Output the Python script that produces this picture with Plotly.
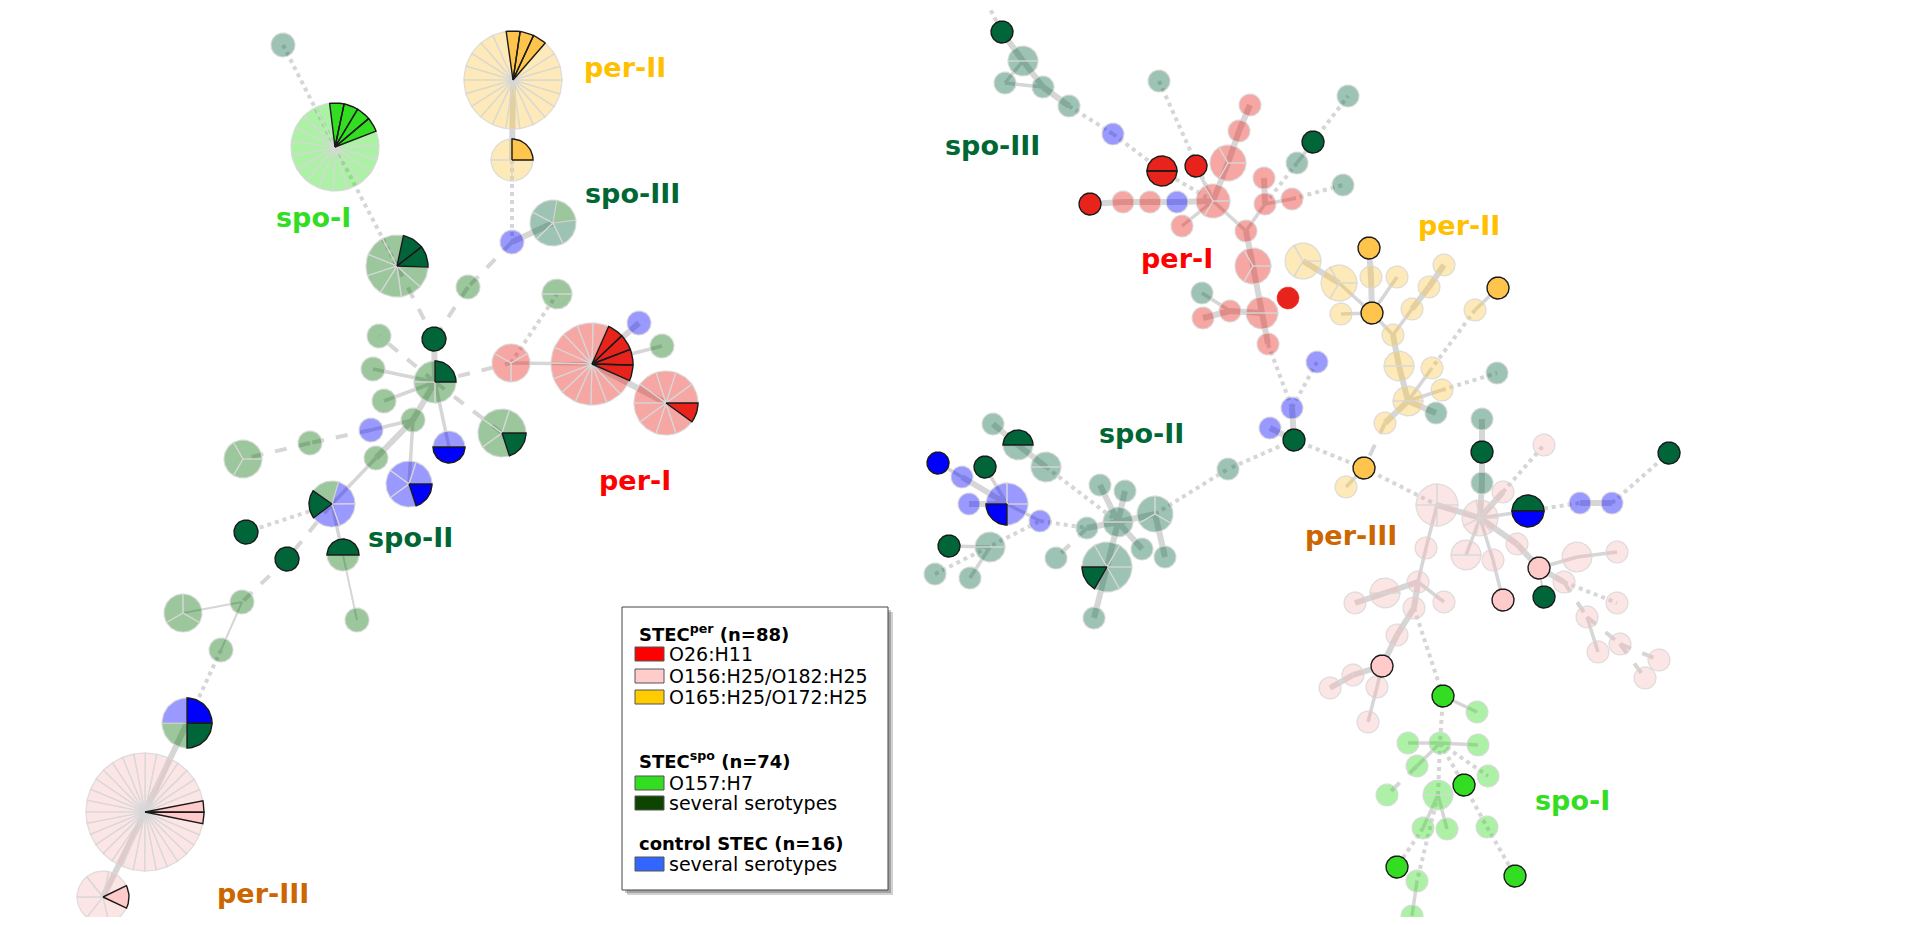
import math
import plotly.graph_objects as go

# ---------------- nodes (pixel layout of the minimum spanning trees) ----------------
# composition string: one letter per isolate slice
#  upper case = highlighted serotype, lower case = other isolates of the group
NODE_NAME = [
    "a1", "a2", "a3", "a4", "a5", "a6", "a7", "a8", "a9", "a10",
    "a11", "a12", "a13", "a14", "a15", "a16", "a17", "a18", "a19", "a20",
    "a21", "a22", "a23", "a24", "a25", "a26", "a27", "a28", "a29", "a30",
    "a31", "a32", "a33", "a34", "a35", "a36", "a37", "a38",
    "b0", "b1", "b2", "b3", "b4", "b5", "b6", "b7", "b8", "b9",
    "b10", "b11", "b12", "b13", "b14", "b15", "b16", "b17", "b18", "b19",
    "b20", "b21", "b22", "b23", "b24", "b25", "b26", "b27", "b28", "b29",
    "b30", "b31", "b32", "b33", "b34",
    "y1", "y2", "y3", "y4", "y5", "y6", "y7", "y8", "y9", "y10",
    "y11", "y12", "y13", "y14", "y15", "y16", "y17", "y18", "y19", "y20",
    "y21", "y22",
    "c1", "c2", "c3",
    "s1", "s2", "s3", "s4", "s5", "s6", "s7", "s8", "s9", "s10",
    "s11", "s12", "s13", "s14", "s15", "s16", "s17", "s18", "s19", "s20",
    "s21", "s22", "s23", "s24",
    "h1", "h2", "h3", "h4", "t1", "h5", "h6", "h7", "h8", "h9", "h10",
    "h11", "h12", "h13", "h14", "h15", "h16", "h17", "h18", "h19", "h20",
    "h21", "h22", "h23", "h24", "h25", "h26", "h27", "h28", "h29", "h30",
    "h31", "h32", "h33", "h34", "h35", "h36", "h37",
    "g1", "g1b", "g2", "g3", "g4", "g5", "g6", "g7", "g8", "g9",
    "g10", "g11", "g12", "g13", "g14", "g15", "g16",
]
NODE_X = [
    283, 335, 513, 512, 512, 553, 397, 468, 557, 434,
    379, 435, 511, 592, 639, 662, 666, 373, 384, 413,
    371, 502, 449, 409, 376, 310, 243, 332, 246, 287,
    343, 357, 242, 183, 221, 187, 145, 103,
    976, 1002, 1023, 1005, 1043, 1069, 1113, 1162, 1196, 1090,
    1123, 1150, 1177, 1213, 1182, 1159, 1250, 1239, 1228, 1264,
    1265, 1292, 1297, 1313, 1348, 1343, 1246, 1253, 1288, 1262,
    1230, 1203, 1202, 1268, 1317,
    1303, 1339, 1369, 1371, 1397, 1372, 1341, 1444, 1429, 1412,
    1498, 1475, 1393, 1399, 1432, 1408, 1442, 1497, 1436, 1385,
    1364, 1346,
    1294, 1292, 1270,
    993, 1018, 1046, 938, 962, 985, 1007, 969, 1040, 949,
    990, 935, 970, 1087, 1118, 1100, 1125, 1155, 1107, 1142,
    1165, 1056, 1094, 1228,
    1437, 1480, 1482, 1482, 1482, 1503, 1544, 1528, 1580, 1612, 1669,
    1426, 1466, 1493, 1517, 1539, 1577, 1617, 1503, 1544, 1564,
    1617, 1587, 1598, 1620, 1659, 1645, 1418, 1385, 1355, 1444,
    1414, 1397, 1382, 1353, 1330, 1377, 1368,
    1443, 1477, 1440, 1408, 1478, 1417, 1387, 1438, 1464, 1488,
    1423, 1447, 1487, 1397, 1417, 1515, 1412,
]
NODE_Y = [
    45, 147, 80, 160, 242, 223, 266, 287, 294, 339,
    336, 382, 363, 364, 323, 346, 403, 369, 401, 420,
    430, 433, 447, 484, 458, 443, 459, 504, 532, 559,
    555, 620, 602, 613, 650, 723, 812, 897,
    -18, 32, 61, 83, 87, 106, 134, 171, 166, 204,
    202, 202, 202, 201, 226, 81, 105, 131, 163, 178,
    204, 199, 163, 142, 96, 185, 231, 266, 298, 313,
    311, 318, 293, 344, 362,
    261, 283, 248, 277, 277, 313, 314, 265, 287, 309,
    288, 310, 335, 366, 368, 401, 390, 373, 413, 423,
    468, 487,
    440, 408, 428,
    424, 445, 467, 463, 477, 467, 504, 504, 521, 546,
    547, 574, 578, 528, 522, 485, 491, 514, 567, 549,
    557, 558, 618, 469,
    505, 518, 483, 452, 419, 492, 445, 511, 503, 503, 453,
    548, 555, 560, 544, 568, 557, 552, 600, 597, 582,
    603, 617, 652, 644, 660, 678, 582, 593, 603, 602,
    608, 635, 666, 675, 688, 687, 722,
    696, 712, 743, 743, 745, 766, 795, 795, 785, 776,
    828, 829, 827, 867, 881, 876, 916,
]
NODE_R = [
    12, 44, 49, 21, 12, 23, 31, 12, 15, 12,
    12, 21, 19, 41, 12, 12, 32, 12, 12, 12,
    12, 24, 16, 23, 12, 12, 19, 23, 12, 12,
    16, 12, 12, 19, 12, 25, 59, 26,
    11, 11, 15, 11, 11, 11, 11, 15, 11, 11,
    11, 11, 11, 17, 11, 11, 11, 11, 18, 11,
    11, 11, 11, 11, 11, 11, 11, 18, 11, 16,
    11, 11, 11, 11, 11,
    18, 18, 11, 11, 11, 11, 11, 11, 11, 11,
    11, 11, 11, 15, 11, 15, 11, 11, 11, 11,
    11, 11,
    11, 11, 11,
    11, 15, 15, 11, 11, 11, 21, 11, 11, 11,
    15, 11, 11, 11, 15, 11, 11, 18, 25, 11,
    11, 11, 11, 11,
    21, 18, 11, 11, 11, 11, 11, 16, 11, 11, 11,
    11, 15, 11, 11, 11, 15, 11, 11, 11, 11,
    11, 11, 11, 11, 11, 11, 11, 15, 11, 11,
    11, 11, 11, 11, 11, 11, 11,
    11, 11, 11, 11, 11, 11, 11, 15, 11, 11,
    11, 11, 11, 11, 11, 11, 11,
]
NODE_COMP = [
    "d", "GGGG" + "g" * 15, "YYY" + "y" * 19, "Yyyy", "b", "edddd", "DD" + "e" * 7, "e", "ee", "D",
    "e", "Deee", "rrr", "RRRR" + "r" * 12, "b", "e", "R" + "r" * 9, "e", "e", "e",
    "b", "Deeee", "Bb", "Bbbbb", "e", "e", "eee", "Debbb", "D", "D",
    "De", "e", "e", "eee", "e", "BDeb", "PP" + "p" * 30, "P" + "p" * 6,
    "d", "D", "dd", "d", "d", "d", "b", "RR", "R", "R",
    "r", "r", "b", "rrr", "r", "d", "r", "r", "rrr", "r",
    "r", "r", "d", "D", "d", "d", "r", "rrr", "Q", "rr",
    "r", "r", "d", "r", "b",
    "yyy", "yyy", "Y", "y", "y", "Y", "y", "y", "y", "y",
    "Y", "y", "y", "yy", "y", "yy", "y", "d", "d", "y",
    "Y", "y",
    "D", "b", "b",
    "d", "Dd", "dd", "B", "b", "D", "Bbbb", "b", "b", "D",
    "dd", "d", "d", "d", "dd", "d", "d", "ddd", "Dddddd", "d",
    "d", "d", "d", "d",
    "pppp", "ppppppp", "d", "D", "d", "p", "p", "DB", "b", "b", "D",
    "p", "pp", "p", "p", "P", "p", "p", "P", "D", "p",
    "p", "p", "p", "p", "p", "p", "p", "pp", "p", "p",
    "p", "p", "P", "p", "p", "p", "p",
    "G", "g", "g", "g", "g", "g", "g", "gg", "G", "g",
    "g", "g", "g", "G", "g", "G", "g",
]
NODE_START = {  # start angle (deg, clockwise from east) of the first slice
    "a2": -97, "a3": -98, "a4": -90, "a6": -80, "a7": -78, "a12": -90, "a13": 90,
    "a14": -66, "a28": 143, "a31": 180, "a34": -90, "a36": -90, "a37": -11, "a38": -26,
    "b13": 0, "b18": 0, "s2": 180, "s7": 90, "s18": -90, "s19": 120, "h7": 180,
}

# ---------------- edges ----------------
EDGES = [
    ("a1", "a2", "dot"), ("a2", "a7", "dot"), ("a3", "a4", "thick"), ("a4", "a5", "dot"),
    ("a5", "a6", "thick"), ("a5", "a8", "dash"), ("a8", "a10", "dash"), ("a7", "a10", "dash"),
    ("a10", "a12", "thick"), ("a12", "a11", "dash"), ("a12", "a18", "solid"), ("a12", "a19", "solid"),
    ("a12", "a20", "thick"), ("a12", "a13", "dash"), ("a12", "a23", "solid"), ("a12", "a22", "dash"),
    ("a13", "a9", "dot"), ("a13", "a14", "solid"), ("a14", "a15", "thick"), ("a14", "a16", "solid"),
    ("a14", "a17", "thick"), ("a20", "a24", "solid"), ("a20", "a21", "solid"), ("a20", "a25", "thick"),
    ("a21", "a26", "dash"), ("a26", "a27", "dash"), ("a25", "a28", "solid"), ("a28", "a29", "dot"),
    ("a28", "a30", "dash"), ("a28", "a31", "solid"), ("a31", "a32", "thin"), ("a30", "a33", "dash"),
    ("a33", "a34", "thin"), ("a33", "a35", "thin"), ("a35", "a36", "dot"), ("a36", "a37", "thick"),
    ("a37", "a38", "thick"),
    ("b0", "b1", "dot"), ("b1", "b2", "thick"), ("b2", "b3", "solid"), ("b3", "b4", "solid"),
    ("b2", "b4", "thick"), ("b4", "b5", "thick"), ("b5", "b6", "dot"), ("b6", "b7", "dot"),
    ("b7", "b13", "dot"), ("b9", "b10", "thick"), ("b10", "b11", "thick"), ("b11", "b12", "thick"),
    ("b12", "b13", "thick"), ("b14", "b13", "solid"), ("b8", "b13", "solid"), ("b15", "b13", "dot"),
    ("b16", "b17", "thick"), ("b17", "b18", "thick"), ("b18", "b13", "thick"), ("b13", "b26", "solid"),
    ("b26", "b20", "solid"), ("b20", "b19", "thick"), ("b20", "b21", "solid"), ("b21", "b25", "dot"),
    ("b20", "b22", "dot"), ("b22", "b23", "solid"), ("b23", "b24", "dot"), ("b26", "b27", "thick"),
    ("b27", "b29", "thick"), ("b29", "b30", "thick"), ("b30", "b31", "thick"), ("b30", "b32", "solid"),
    ("b29", "b33", "thick"), ("b33", "c2", "dot"), ("b34", "c2", "dot"), ("c2", "c1", "thick"),
    ("c3", "c1", "thick"), ("c1", "s24", "dot"),
    ("y1", "y2", "thick"), ("y2", "y6", "solid"), ("y3", "y4", "thick"), ("y4", "y6", "thick"),
    ("y5", "y6", "solid"), ("y7", "y6", "solid"), ("y6", "y13", "solid"), ("y13", "y14", "thick"),
    ("y14", "y16", "thick"), ("y8", "y9", "thick"), ("y9", "y10", "thick"), ("y10", "y13", "solid"),
    ("y11", "y12", "solid"), ("y12", "y15", "dot"), ("y15", "y16", "solid"), ("y17", "y16", "solid"),
    ("y17", "y18", "dot"), ("y16", "y19", "thick"), ("y16", "y20", "thick"), ("y20", "y21", "dash"),
    ("y21", "y22", "solid"), ("y21", "c1", "dot"), ("y21", "h1", "dot"),
    ("s1", "s2", "thick"), ("s2", "s3", "thick"), ("s3", "s15", "dot"), ("s4", "s5", "solid"),
    ("s5", "s7", "thick"), ("s6", "s7", "solid"), ("s8", "s7", "thick"), ("s7", "s9", "solid"),
    ("s9", "s14", "dot"), ("s14", "s15", "thick"), ("s10", "s11", "solid"), ("s12", "s9", "dot"),
    ("s11", "s13", "solid"), ("s15", "s16", "thick"), ("s15", "s17", "thick"), ("s15", "s18", "thick"),
    ("s15", "s19", "thick"), ("s15", "s20", "thick"), ("s18", "s21", "thick"), ("s14", "s22", "dash"),
    ("s19", "s23", "thick"), ("s18", "s24", "dot"),
    ("h1", "h2", "thick"), ("h1", "h11", "solid"), ("h11", "h27", "solid"), ("h2", "h12", "solid"),
    ("h2", "h13", "solid"), ("h2", "h14", "thick"), ("h2", "h3", "thick"), ("h3", "h4", "thick"),
    ("h4", "t1", "thick"), ("h2", "h5", "thick"), ("h5", "h6", "dot"), ("h2", "h7", "solid"),
    ("h7", "h8", "dot"), ("h8", "h9", "thick"), ("h9", "h10", "dot"), ("h14", "h15", "thick"),
    ("h15", "h16", "solid"), ("h16", "h17", "solid"), ("h15", "h20", "thick"), ("h15", "h19", "thin"),
    ("h13", "h18", "solid"), ("h20", "h21", "dot"), ("h20", "h22", "dash"), ("h22", "h23", "solid"),
    ("h22", "h24", "dash"), ("h24", "h25", "dash"), ("h24", "h26", "dash"), ("h27", "h28", "thick"),
    ("h28", "h29", "thick"), ("h27", "h30", "solid"), ("h27", "h31", "thick"), ("h31", "h32", "thick"),
    ("h32", "h33", "thick"), ("h33", "h34", "thick"), ("h34", "h35", "thick"), ("h33", "h36", "solid"),
    ("h36", "h37", "solid"), ("h31", "g1", "dot"),
    ("g1", "g1b", "solid"), ("g1", "g2", "dot"), ("g2", "g3", "solid"), ("g2", "g4", "solid"),
    ("g2", "g5", "solid"), ("g5", "g6", "dash"), ("g2", "g7", "dot"), ("g2", "g9", "dot"),
    ("g2", "g8", "dot"), ("g8", "g12", "dot"), ("g12", "g15", "dot"), ("g7", "g10", "solid"),
    ("g7", "g11", "solid"), ("g7", "g14", "dot"), ("g10", "g13", "dot"), ("g14", "g16", "solid"),
]

# ---------------- cluster labels ----------------
LABEL_TEXT = ["per-II", "spo-I", "spo-III", "per-I", "spo-II", "per-III",
              "spo-III", "per-I", "per-II", "spo-II", "per-III", "spo-I"]
LABEL_X = [625, 313, 632, 635, 410, 263, 992, 1177, 1459, 1141, 1351, 1572]
LABEL_Y = [67, 217, 193, 480, 537, 893, 145, 258, 225, 433, 535, 800]
LABEL_KEY = ["Y", "G", "D", "R", "D", "O", "D", "R", "Y", "D", "O", "G"]

# ---------------- legend ----------------
LEGEND_TITLES = ["<b>STEC<sup>per</sup> (n=88)</b>", "<b>STEC<sup>spo</sup> (n=74)</b>",
                 "<b>control STEC (n=16)</b>"]
LEGEND_TITLE_Y = [633, 760, 843]
LEGEND_ITEMS = ["O26:H11", "O156:H25/O182:H25", "O165:H25/O172:H25",
                "O157:H7", "several serotypes", "several serotypes"]
LEGEND_ITEM_Y = [654, 676, 697, 783, 803, 864]
LEGEND_ITEM_COLOR = ["#ff0000", "#ffcccc", "#ffcc00", "#33dd22", "#0d4400", "#3366ff"]

# ---------------- styling ----------------
FADED = {"p": "rgba(245,180,180,0.35)", "y": "rgba(253,196,68,0.38)", "r": "rgba(232,35,28,0.4)",
         "g": "rgba(51,221,34,0.4)", "d": "rgba(0,100,60,0.39)", "e": "rgba(0,110,0,0.39)",
         "b": "rgba(0,0,255,0.4)"}
BRIGHT = {"P": "#ffcaca", "Y": "#fec44c", "R": "#e8231c", "G": "#33dd22", "D": "#00663a",
          "B": "#0000ff", "Q": "#e8231c"}
TEXTCOL = {"Y": "#ffc000", "G": "#33dd22", "D": "#006633", "R": "#ff0000", "O": "#cc6600"}
EDGE_W = {"thin": 2, "solid": 3.5, "thick": 6, "dash": 4, "dot": 4}
EDGE_DASH = {"thin": "solid", "solid": "solid", "thick": "solid", "dash": "dash", "dot": "dot"}

# page body has an 8px margin: shift the pixel-unit axes so that coordinates are screen pixels
OFF = 8
W, H = 1909 - 2 * OFF, 925 - 2 * OFF
idx = {n: i for i, n in enumerate(NODE_NAME)}

fig = go.Figure()

# edges
for style in ["thin", "solid", "thick", "dash", "dot"]:
    xs, ys = [], []
    for a, b, s in EDGES:
        if s != style:
            continue
        xs += [NODE_X[idx[a]], NODE_X[idx[b]], None]
        ys += [NODE_Y[idx[a]], NODE_Y[idx[b]], None]
    fig.add_trace(go.Scatter(x=xs, y=ys, mode="lines", hoverinfo="skip",
                             line=dict(color="#d6d6d6", width=EDGE_W[style], dash=EDGE_DASH[style])))


def arc_poly(cx, cy, r, a0, a1, center):
    n = max(6, int(abs(a1 - a0) / 4) + 1)
    px, py = [], []
    if center:
        px.append(cx); py.append(cy)
    for i in range(n + 1):
        t = math.radians(a0 + (a1 - a0) * i / n)
        px.append(cx + r * math.cos(t)); py.append(cy + r * math.sin(t))
    px.append(px[0]); py.append(py[0])
    return px, py


groups = {}
for i, name in enumerate(NODE_NAME):
    comp = NODE_COMP[i]
    n = len(comp)
    a0 = NODE_START.get(name, 0)
    for k, ch in enumerate(comp):
        if n == 1:
            px, py = arc_poly(NODE_X[i], NODE_Y[i], NODE_R[i], 0, 360, False)
        else:
            px, py = arc_poly(NODE_X[i], NODE_Y[i], NODE_R[i],
                              a0 + k * 360 / n, a0 + (k + 1) * 360 / n, True)
        g = groups.setdefault(ch, ([], []))
        g[0].extend(px + [None]); g[1].extend(py + [None])

for key in ["p", "y", "r", "g", "d", "e", "b"]:
    if key in groups:
        fig.add_trace(go.Scatter(x=groups[key][0], y=groups[key][1], mode="lines", fill="toself",
                                 fillcolor=FADED[key], hoverinfo="skip",
                                 line=dict(color="rgba(215,215,215,0.85)", width=1.2)))
for key in ["P", "Y", "R", "G", "D", "B", "Q"]:
    if key in groups:
        fig.add_trace(go.Scatter(x=groups[key][0], y=groups[key][1], mode="lines", fill="toself",
                                 fillcolor=BRIGHT[key], hoverinfo="skip",
                                 line=dict(color=BRIGHT[key] if key == "Q" else "#1a1a1a",
                                           width=0.5 if key == "Q" else 1.4)))

annotations = []
for t, x, y, k in zip(LABEL_TEXT, LABEL_X, LABEL_Y, LABEL_KEY):
    annotations.append(dict(x=x, y=y, xref="x", yref="y", text=t, showarrow=False,
                            xanchor="center", yanchor="middle",
                            font=dict(family="DejaVu Sans", size=27, color=TEXTCOL[k], weight="bold")))

# legend box
shapes = [
    dict(type="rect", x0=627, y0=612, x1=893, y1=895, xref="x", yref="y",
         fillcolor="rgba(0,0,0,0.18)", line=dict(width=0), layer="above"),
    dict(type="rect", x0=625, y0=610, x1=891, y1=893, xref="x", yref="y",
         fillcolor="rgba(0,0,0,0.22)", line=dict(width=0), layer="above"),
    dict(type="rect", x0=622, y0=607, x1=888, y1=890, xref="x", yref="y",
         fillcolor="white", line=dict(color="#444444", width=1), layer="above"),
]
for t, y in zip(LEGEND_TITLES, LEGEND_TITLE_Y):
    annotations.append(dict(x=637, y=y, xref="x", yref="y", text=t, showarrow=False,
                            xanchor="left", yanchor="middle",
                            font=dict(family="DejaVu Sans", size=18, color="black")))
for t, y, c in zip(LEGEND_ITEMS, LEGEND_ITEM_Y, LEGEND_ITEM_COLOR):
    shapes.append(dict(type="rect", x0=635, x1=664, y0=y - 7, y1=y + 7, xref="x", yref="y",
                       fillcolor=c, line=dict(color="#555555", width=1), layer="above"))
    annotations.append(dict(x=667, y=y, xref="x", yref="y", text=t, showarrow=False,
                            xanchor="left", yanchor="middle",
                            font=dict(family="DejaVu Sans", size=19, color="black")))

fig.update_layout(
    width=W, height=H, margin=dict(l=0, r=0, t=0, b=0),
    paper_bgcolor="white", plot_bgcolor="white", showlegend=False,
    xaxis=dict(range=[OFF, OFF + W], visible=False, fixedrange=True),
    yaxis=dict(range=[OFF + H, OFF], visible=False, fixedrange=True),
    shapes=shapes, annotations=annotations,
)
fig.write_html("out.html")
